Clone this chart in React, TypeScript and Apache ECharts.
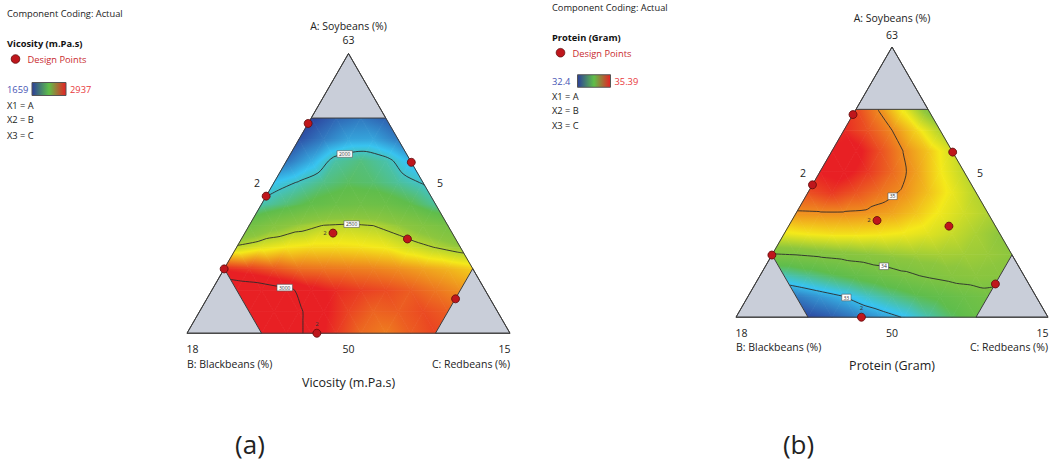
import React, { useEffect, useRef } from "react";
import * as echarts from "echarts";

// ---------------- Data ----------------
// Lattice of the ternary constrained region: 13 divisions per side, corners of 3 steps are excluded.
// Row i = level of A (i/13), values from B-rich side (left) to C-rich side (right).
const viscosityRow0 = [3080, 3040, 2980, 2900, 2820, 2790, 2840, 2880];
const viscosityRow1 = [3070, 3050, 3010, 2950, 2880, 2830, 2840, 2870, 2840];
const viscosityRow2 = [3080, 3060, 3020, 2960, 2920, 2890, 2870, 2840, 2800, 2760];
const viscosityRow3 = [2920, 2890, 2850, 2810, 2800, 2790, 2780, 2760, 2730, 2700, 2660];
const viscosityRow4 = [2520, 2580, 2620, 2640, 2640, 2630, 2610, 2550, 2495, 2440];
const viscosityRow5 = [2280, 2380, 2450, 2505, 2520, 2500, 2440, 2370, 2300];
const viscosityRow6 = [2030, 2110, 2190, 2240, 2260, 2240, 2170, 2060];
const viscosityRow7 = [1940, 2010, 2090, 2140, 2120, 2060, 1990];
const viscosityRow8 = [1770, 1890, 2050, 2100, 2040, 1910];
const viscosityRow9 = [1700, 1790, 1870, 1875, 1790];
const viscosityRow10 = [1665, 1740, 1780, 1730];

const proteinRow0 = [32.45, 32.55, 32.7, 32.85, 33.02, 33.28, 33.52, 33.72];
const proteinRow1 = [32.7, 32.85, 33.0, 33.21, 33.39, 33.55, 33.66, 33.78, 33.88];
const proteinRow2 = [33.25, 33.39, 33.54, 33.68, 33.81, 33.93, 34.04, 34.13, 34.18, 34.14];
const proteinRow3 = [33.97, 34.0, 34.06, 34.12, 34.18, 34.24, 34.28, 34.3, 34.28, 34.25, 34.2];
const proteinRow4 = [34.6, 34.65, 34.68, 34.68, 34.66, 34.62, 34.55, 34.45, 34.32, 34.2];
const proteinRow5 = [34.97, 34.98, 34.98, 34.96, 34.9, 34.78, 34.62, 34.48, 34.35];
const proteinRow6 = [35.22, 35.3, 35.2, 35.08, 34.97, 34.8, 34.6, 34.38];
const proteinRow7 = [35.4, 35.45, 35.3, 35.12, 34.92, 34.66, 34.42];
const proteinRow8 = [35.4, 35.45, 35.22, 34.99, 34.78, 34.5];
const proteinRow9 = [35.35, 35.2, 35.0, 34.72, 34.35];
const proteinRow10 = [35.25, 34.98, 34.6, 34.1];

const viscosityRange = [1659, 2937];
const proteinRange = [32.4, 35.39];
const viscosityLevels = [2000, 2500, 3000];
const proteinLevels = [33, 34, 35];

// Design points (pseudo-component fractions A, B, C) and replicate counts
const designA = [0.75, 0.611, 0.49, 0.358, 0.337, 0.23, 0.123, 0];
const designB = [0.25, 0, 0.51, 0.369, 0.149, 0.77, 0.107, 0.598];
const designC = [0, 0.389, 0, 0.273, 0.514, 0, 0.77, 0.402];
const designReplicates = [1, 1, 1, 2, 1, 1, 1, 2];

// Tick labels: apex, left side, right side, base left, base mid, base right
const triangleTicks = ["63", "2", "5", "18", "50", "15"];
const axisTitles = ["A: Soybeans (%)", "B: Blackbeans (%)", "C: Redbeans (%)"];
const responseNames = ["Vicosity (m.Pa.s)", "Protein (Gram)"];
const panelTags = ["(a)", "(b)"];

// ---------------- Helpers ----------------
const viscosityRows = [viscosityRow0, viscosityRow1, viscosityRow2, viscosityRow3, viscosityRow4, viscosityRow5, viscosityRow6, viscosityRow7, viscosityRow8, viscosityRow9, viscosityRow10];
const proteinRows = [proteinRow0, proteinRow1, proteinRow2, proteinRow3, proteinRow4, proteinRow5, proteinRow6, proteinRow7, proteinRow8, proteinRow9, proteinRow10];

const SQ = Math.sqrt(3) / 2;
const N = 13;
const CUT = 3;
const MAXI = N - CUT;
const FONT = '"Open Sans", "Noto Sans", sans-serif';

const kStart = (i: number) => Math.max(0, CUT - i);
const validNode = (i: number, k: number) => {
  const j = N - i - k;
  return i >= 0 && k >= 0 && j >= 0 && i <= MAXI && k <= MAXI && j <= MAXI;
};
const nodeXY = (i: number, k: number) => [(k + i / 2) / N, (i / N) * SQ];
const ternXY = (a: number, b: number, c: number) => {
  const s = a + b + c;
  return [(c + a / 2) / s, (a / s) * SQ];
};

type Node = { id: number; p: number[]; v: number };

function buildTriangles(rows: number[][]): Node[][] {
  const val = (i: number, k: number) => rows[i][k - kStart(i)];
  const tris: Node[][] = [];
  for (let i = 0; i < N; i++) {
    for (let k = 0; k <= N - 1 - i; k++) {
      const cands = [[[i, k], [i, k + 1], [i + 1, k]]];
      if (k <= N - i - 2) cands.push([[i, k + 1], [i + 1, k], [i + 1, k + 1]]);
      for (const tri of cands) {
        if (tri.every(([a, b]) => validNode(a, b))) {
          tris.push(tri.map(([a, b]) => ({ id: a * 100 + b, p: nodeXY(a, b), v: val(a, b) })));
        }
      }
    }
  }
  return tris;
}

type Seg = { k1: string; p1: number[]; k2: string; p2: number[] };

function contourLines(tris: Node[][], level: number) {
  const segs: Seg[] = [];
  for (const t of tris) {
    const pts: { key: string; p: number[] }[] = [];
    for (let e = 0; e < 3; e++) {
      const a = t[e], b = t[(e + 1) % 3];
      const aa = a.v >= level, bb = b.v >= level;
      if (aa !== bb) {
        const f = (level - a.v) / (b.v - a.v);
        const key = a.id < b.id ? a.id + "-" + b.id : b.id + "-" + a.id;
        pts.push({ key, p: [a.p[0] + f * (b.p[0] - a.p[0]), a.p[1] + f * (b.p[1] - a.p[1])] });
      }
    }
    if (pts.length === 2) segs.push({ k1: pts[0].key, p1: pts[0].p, k2: pts[1].key, p2: pts[1].p });
  }
  const map = new Map<string, number[]>();
  segs.forEach((s, idx) => {
    [s.k1, s.k2].forEach((k) => {
      if (!map.has(k)) map.set(k, []);
      map.get(k)!.push(idx);
    });
  });
  const used = segs.map(() => false);
  const lines: number[][][] = [];
  const walk = (startKey: string) => {
    let curKey = startKey;
    let idx: number | undefined = (map.get(curKey) || []).find((j) => !used[j]);
    if (idx === undefined) return;
    const first = segs[idx];
    const pts = [first.k1 === curKey ? first.p1 : first.p2];
    while (idx !== undefined) {
      used[idx] = true;
      const s = segs[idx];
      const fwd = s.k1 === curKey;
      pts.push(fwd ? s.p2 : s.p1);
      curKey = fwd ? s.k2 : s.k1;
      idx = (map.get(curKey) || []).find((j) => !used[j]);
    }
    lines.push(pts);
  };
  for (const [k, l] of map.entries()) if (l.length === 1) walk(k);
  for (const [k] of map.entries()) walk(k);
  return lines;
}

function midPoint(pts: number[][]) {
  let total = 0;
  const lens: number[] = [];
  for (let i = 1; i < pts.length; i++) {
    const l = Math.hypot(pts[i][0] - pts[i - 1][0], pts[i][1] - pts[i - 1][1]);
    lens.push(l);
    total += l;
  }
  let acc = 0;
  for (let i = 1; i < pts.length; i++) {
    if (acc + lens[i - 1] >= total / 2) {
      const f = (total / 2 - acc) / (lens[i - 1] || 1);
      return [pts[i - 1][0] + f * (pts[i][0] - pts[i - 1][0]), pts[i - 1][1] + f * (pts[i][1] - pts[i - 1][1])];
    }
    acc += lens[i - 1];
  }
  return pts[0];
}

// Colour map of the response surface (position along the legend range, colour)
const surfaceOffsets = [0, 0.22, 0.4, 0.6, 0.75, 1];
const surfaceColors = ["#2c3e9a", "#38c4f0", "#5fbd4c", "#8cc63e", "#f4e91a", "#e82024"];
const rgbStops = surfaceColors.map((h) => [parseInt(h.slice(1, 3), 16), parseInt(h.slice(3, 5), 16), parseInt(h.slice(5, 7), 16)]);
function colorAt(t: number) {
  const tt = Math.min(1, Math.max(0, t));
  let i = 0;
  while (i < surfaceOffsets.length - 2 && tt > surfaceOffsets[i + 1]) i++;
  const f = (tt - surfaceOffsets[i]) / (surfaceOffsets[i + 1] - surfaceOffsets[i]);
  const a = rgbStops[i], b = rgbStops[i + 1];
  return `rgb(${Math.round(a[0] + (b[0] - a[0]) * f)},${Math.round(a[1] + (b[1] - a[1]) * f)},${Math.round(a[2] + (b[2] - a[2]) * f)})`;
}

function triFill(P: number[][], T: number[]) {
  const tmin = Math.min(...T), tmax = Math.max(...T);
  if (tmax - tmin < 1e-6) return colorAt(T[0]);
  const d1x = P[1][0] - P[0][0], d1y = P[1][1] - P[0][1];
  const d2x = P[2][0] - P[0][0], d2y = P[2][1] - P[0][1];
  const dt1 = T[1] - T[0], dt2 = T[2] - T[0];
  const det = d1x * d2y - d1y * d2x;
  const gx = (dt1 * d2y - d1y * dt2) / det;
  const gy = (d1x * dt2 - d2x * dt1) / det;
  const g2 = gx * gx + gy * gy;
  const sx = P[0][0] + (gx * (tmin - T[0])) / g2, sy = P[0][1] + (gy * (tmin - T[0])) / g2;
  const ex = P[0][0] + (gx * (tmax - T[0])) / g2, ey = P[0][1] + (gy * (tmax - T[0])) / g2;
  const stops = [{ offset: 0, color: colorAt(tmin) }];
  for (const bt of surfaceOffsets) {
    if (bt > tmin && bt < tmax) stops.push({ offset: (bt - tmin) / (tmax - tmin), color: colorAt(bt) });
  }
  stops.push({ offset: 1, color: colorAt(tmax) });
  return new echarts.graphic.LinearGradient(sx, sy, ex, ey, stops, true);
}

function panelSeries(idx: number, rows: number[][], range: number[], levels: number[]) {
  const tris = buildTriangles(rows);
  const [lo, hi] = range;
  const surface = {
    type: "custom",
    xAxisIndex: idx,
    yAxisIndex: idx,
    z: 1,
    silent: true,
    data: tris.map((t) => [t[0].p[0], t[0].p[1], t[1].p[0], t[1].p[1], t[2].p[0], t[2].p[1], t[0].v, t[1].v, t[2].v]),
    renderItem: (params: any, api: any) => {
      const P = [0, 1, 2].map((n) => api.coord([api.value(2 * n), api.value(2 * n + 1)]));
      const T = [6, 7, 8].map((n) => (api.value(n) - lo) / (hi - lo));
      const fill = triFill(P, T);
      return { type: "polygon", shape: { points: P }, style: { fill, stroke: fill, lineWidth: 0.8 } };
    },
  };
  const lines: { pts: number[][]; level: number; mid: number[] | null }[] = [];
  levels.forEach((lv) => {
    const ls = contourLines(tris, lv);
    let longest = -1, best = -1;
    ls.forEach((l, j) => {
      if (l.length > longest) { longest = l.length; best = j; }
    });
    ls.forEach((l, j) => lines.push({ pts: l, level: lv, mid: j === best ? midPoint(l) : null }));
  });
  const contours = {
    type: "custom",
    xAxisIndex: idx,
    yAxisIndex: idx,
    z: 2,
    silent: true,
    data: lines.map((l, j) => [l.pts[0][0], l.pts[0][1], j]),
    renderItem: (params: any, api: any) => {
      const l = lines[params.dataIndex];
      const pts = l.pts.map((p) => api.coord(p));
      const children: any[] = [
        { type: "polyline", shape: { points: pts, smooth: 0.3 }, style: { stroke: "#2b2b2b", lineWidth: 0.9, fill: null } },
      ];
      if (l.mid) {
        const m = api.coord(l.mid);
        const text = String(l.level);
        const w = text.length * 3.1 + 3;
        children.push({ type: "rect", shape: { x: m[0] - w / 2, y: m[1] - 3.3, width: w, height: 6.6 }, style: { fill: "#ffffff", stroke: "#555", lineWidth: 0.6 } });
        children.push({
          type: "text",
          style: { text, x: m[0], y: m[1] + 0.2, textAlign: "center", textVerticalAlign: "middle", align: "center", verticalAlign: "middle", font: `5px ${FONT}`, fill: "#333" },
        });
      }
      return { type: "group", children };
    },
  };
  const frame = {
    type: "custom",
    xAxisIndex: idx,
    yAxisIndex: idx,
    z: 3,
    silent: true,
    data: [[0.5, 0.4]],
    renderItem: (params: any, api: any) => {
      const c = (i: number, k: number) => api.coord(nodeXY(i, k));
      const corners = [
        [c(MAXI, 0), c(MAXI, CUT), c(N, 0)],
        [c(0, 0), c(0, CUT), c(CUT, 0)],
        [c(0, N), c(0, MAXI), c(CUT, MAXI)],
      ];
      const children: any[] = corners.map((pts) => ({
        type: "polygon",
        shape: { points: pts },
        style: { fill: "#c9ced9", stroke: "#3c3c3c", lineWidth: 1 },
      }));
      children.push({ type: "polygon", shape: { points: [c(0, 0), c(0, N), c(N, 0)] }, style: { fill: null, stroke: "#3c3c3c", lineWidth: 1 } });
      return { type: "group", children };
    },
  };
  const points = {
    type: "scatter",
    xAxisIndex: idx,
    yAxisIndex: idx,
    z: 4,
    silent: true,
    symbolSize: 8,
    itemStyle: { color: "#bf161c", borderColor: "#5e0a0a", borderWidth: 0.8, opacity: 1 },
    data: designA.map((a, j) => ({
      value: ternXY(a, designB[j], designC[j]),
      label: {
        show: designReplicates[j] > 1,
        formatter: String(designReplicates[j]),
        position: a === 0 ? "top" : "left",
        distance: 2,
        fontSize: 6,
        fontFamily: FONT,
        color: "#333",
      },
    })),
  };
  return [surface, contours, frame, points];
}

const txt = (text: string, x: number, y: number, size: number, align = "center", color = "#222", weight = "normal") => ({
  type: "text",
  x,
  y,
  silent: true,
  style: {
    text,
    font: `${weight} ${size}px ${FONT}`,
    fill: color,
    textAlign: align,
    textVerticalAlign: "middle",
    align,
    verticalAlign: "middle",
  },
});

function legend(x0: number, ys: number[], name: string, range: number[], bar: number[]) {
  const legendBar = new echarts.graphic.LinearGradient(0, 0, 1, 0, [
    { offset: 0, color: "#2c3e9a" },
    { offset: 0.5, color: "#5fbf48" },
    { offset: 1, color: "#e82024" },
  ]);
  return [
    txt("Component Coding: Actual", x0, ys[0], 9.3, "left"),
    txt(name, x0, ys[1], 9.3, "left", "#111", "bold"),
    { type: "circle", silent: true, shape: { cx: x0 + 8.5, cy: ys[2], r: 4.3 }, style: { fill: "#bf161c", stroke: "#5e0a0a", lineWidth: 0.8 } },
    txt("Design Points", x0 + 20.5, ys[2] + 0.5, 9.3, "left", "#c92a2f"),
    txt(String(range[0]), x0, ys[3], 9.3, "left", "#4654b4"),
    { type: "rect", silent: true, shape: { x: bar[0], y: ys[3] - bar[2] / 2, width: bar[1], height: bar[2] }, style: { fill: legendBar, stroke: "#555", lineWidth: 1 } },
    txt(String(range[1]), bar[0] + bar[1] + 4, ys[3], 9.3, "left", "#e8383c"),
    txt("X1 = A", x0, ys[4], 9.3, "left"),
    txt("X2 = B", x0, ys[5], 9.3, "left"),
    txt("X3 = C", x0, ys[6], 9.3, "left"),
  ];
}

function panelTexts(cx: number, L: number, R: number, yTitle: number, yApex: number, ySide: number, sideL: number, sideR: number, yBase: number, yAxisT: number, yResp: number, resp: string, tag: string, tagX: number) {
  return [
    txt(axisTitles[0], cx, yTitle, 10.5),
    txt(triangleTicks[0], cx, yApex, 10.5),
    txt(triangleTicks[1], sideL, ySide, 10.5),
    txt(triangleTicks[2], sideR, ySide, 10.5),
    txt(triangleTicks[3], L + 5.5, yBase, 10.5),
    txt(triangleTicks[4], cx, yBase, 10.5),
    txt(triangleTicks[5], R - 5.5, yBase, 10.5),
    txt(axisTitles[1], L, yAxisT, 10.5, "left"),
    txt(axisTitles[2], R, yAxisT, 10.5, "right"),
    txt(resp, cx, yResp, 12.5),
    txt(tag, tagX, 444, 26),
  ];
}

export default function App() {
  const ref = useRef<HTMLDivElement>(null);
  useEffect(() => {
    if (!ref.current) return;
    const chart = echarts.init(ref.current, null, { renderer: "svg" });
    const hiddenX = (gridIndex: number) => ({ type: "value", gridIndex, min: 0, max: 1, show: false });
    const hiddenY = (gridIndex: number) => ({ type: "value", gridIndex, min: 0, max: SQ, show: false });
    chart.setOption({
      animation: false,
      backgroundColor: "#ffffff",
      grid: [
        { left: 187, top: 53.5, width: 323, height: 323 * SQ },
        { left: 736, top: 47, width: 312, height: 312 * SQ },
      ],
      xAxis: [hiddenX(0), hiddenX(1)],
      yAxis: [hiddenY(0), hiddenY(1)],
      series: [
        ...panelSeries(0, viscosityRows, viscosityRange, viscosityLevels),
        ...panelSeries(1, proteinRows, proteinRange, proteinLevels),
      ],
      graphic: {
        elements: [
          ...legend(7, [13, 43, 59, 89, 105.5, 119.8, 135], responseNames[0], viscosityRange, [32, 34, 13]),
          ...legend(552, [7, 37.5, 52.7, 81, 96.8, 110.8, 125], responseNames[1], proteinRange, [577.5, 33, 12.5]),
          ...panelTexts(348.5, 187, 510, 25.5, 40, 183, 257, 440, 349, 363.5, 382.5, responseNames[0], panelTags[0], 250),
          ...panelTexts(892, 736, 1048, 18, 35, 173, 803, 980, 333, 347, 365.5, responseNames[1], panelTags[1], 798.5),
        ],
      },
    });
    return () => chart.dispose();
  }, []);
  return <div ref={ref} style={{ position: "fixed", left: 0, top: 0, width: 1056, height: 462 }} />;
}
